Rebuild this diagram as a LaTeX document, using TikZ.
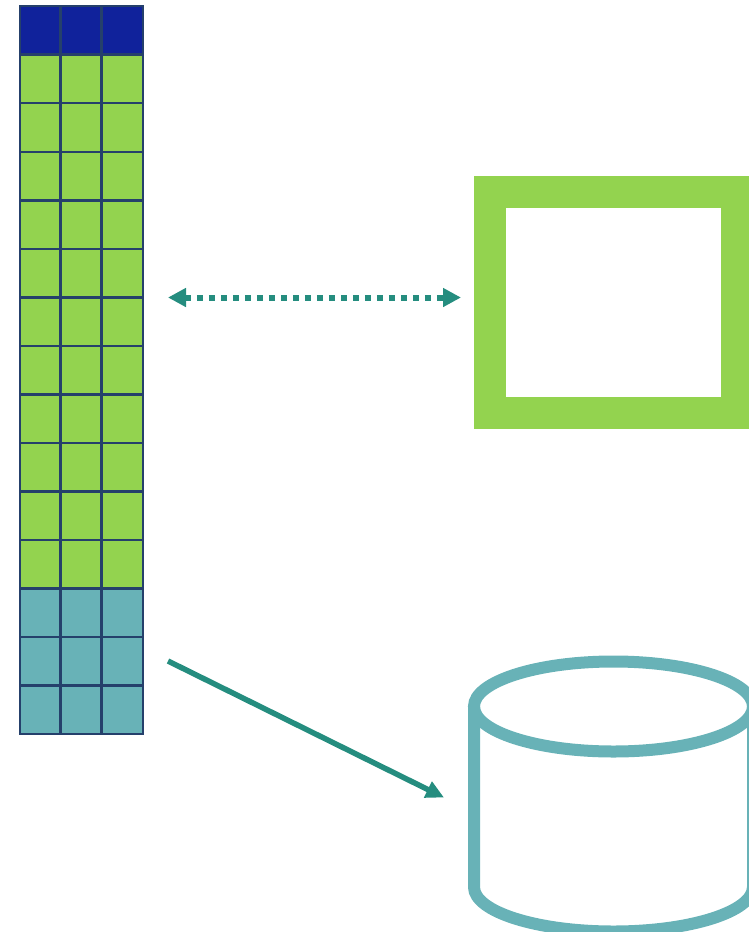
\documentclass[tikz,border=0pt]{standalone}
\usepackage{tikz}
\usetikzlibrary{matrix, arrows.meta}

\definecolor{cellblue}{HTML}{10229B}
\definecolor{cellgreen}{HTML}{93D34F}
\definecolor{cellteal}{HTML}{68B2B7}
\definecolor{gridline}{HTML}{25406B}
\definecolor{arrowteal}{HTML}{258D7F}

\tikzset{
  cell/.style = {draw = gridline, line width = 2.5pt, fill = cellgreen, inner sep = 0pt, outer sep = 0pt, minimum width = 41.4pt, minimum height = 48.52pt},
  tub/.style = {draw = cellteal, line width = 12pt},
  link/.style = {arrowteal, line width = 6pt, dash pattern = on 6pt off 6pt, {Triangle[length = 18pt, width = 18pt]}-{Triangle[length = 18pt, width = 18pt]}},
  feed/.style = {arrowteal, line width = 5.5pt, -{Triangle[length = 18pt, width = 17pt]}}
}

\begin{document}
\begin{tikzpicture} [x = 1pt, y = -1pt]
\useasboundingbox (0,0) rectangle (749,932);
\matrix (m) at (18.95,4.95) [anchor = north west, matrix of nodes, nodes in empty cells, inner sep = 0pt, outer sep = 0pt, column sep = -2.5pt, row sep = -2.5pt, nodes = {cell},
  column 1/.style = {nodes = {minimum width = 40.1pt}},
  row 1/.style = {nodes = {fill = cellblue}},
  row 13/.style = {nodes = {fill = cellteal}},
  row 14/.style = {nodes = {fill = cellteal}},
  row 15/.style = {nodes = {fill = cellteal}}]{
 & & \\
 & & \\
 & & \\
 & & \\
 & & \\
 & & \\
 & & \\
 & & \\
 & & \\
 & & \\
 & & \\
 & & \\
 & & \\
 & & \\
 & & \\
};
\node[draw = cellgreen, line width = 32pt, minimum width = 247.5pt, minimum height = 221pt, inner sep = 0pt, outer sep = 0pt] (screen) at (613.25,302.5) {};
\draw[tub] (613.5,706.5) ellipse [x radius = 139.5pt, y radius = 45pt];
\draw[tub] (474,706.5) -- (474,887) arc [start angle = 180, end angle = 360, x radius = 139.5pt, y radius = 44.5pt] -- (753,706.5);
\coordinate (linkstart) at (168,297.5);
\coordinate (linkend) at (461,297.5);
\coordinate (feedstart) at (168,661);
\coordinate (feedend) at (444,797.5);
\draw[link] (linkstart) -- (linkend);
\draw[feed] (feedstart) -- (feedend);
\end{tikzpicture}
\end{document}
